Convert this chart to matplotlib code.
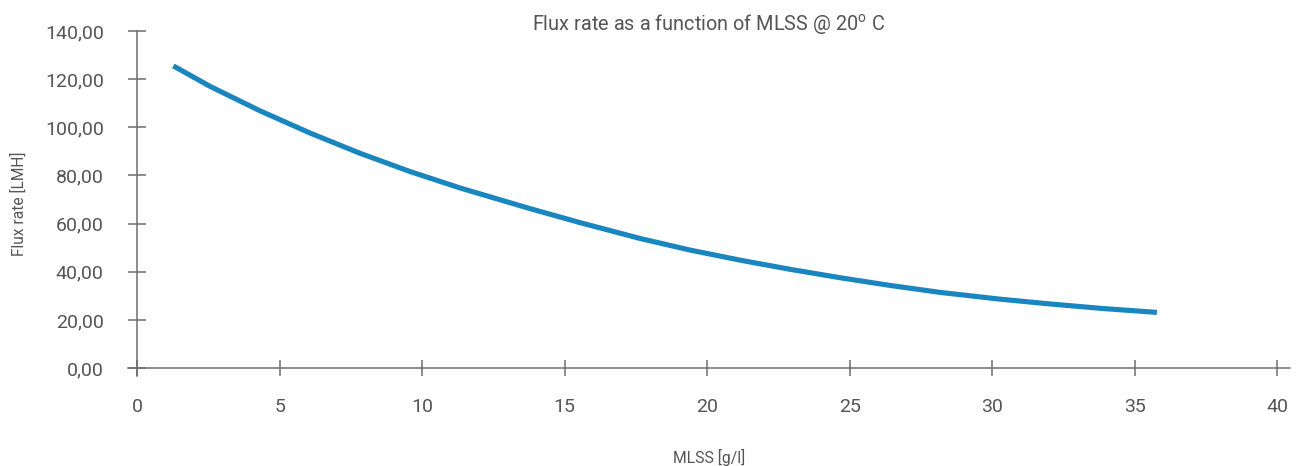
import matplotlib
matplotlib.use("Agg")
import matplotlib.pyplot as plt
from matplotlib.ticker import FuncFormatter

mlss = [1.27, 2.56, 4.32, 6.07, 7.82, 9.58, 11.33, 13.79, 15.54, 17.65,
        19.4, 21.16, 22.91, 24.67, 26.42, 28.18, 30.28, 32.04, 33.9, 35.78]
flux = [125.5, 117.0, 106.8, 97.6, 89.2, 81.6, 74.8, 66.2, 60.4, 53.8,
        49.0, 44.8, 41.0, 37.5, 34.3, 31.4, 28.6, 26.6, 24.7, 23.1]
x_ticks = [0, 5, 10, 15, 20, 25, 30, 35, 40]
y_ticks = [0, 20, 40, 60, 80, 100, 120, 140]

title = "Flux rate as a function of MLSS @ 20$^{\\mathregular{o}}$ C"
xlabel = "MLSS [g/l]"
ylabel = "Flux rate [LMH]"

plt.rcParams['font.family'] = ['Roboto', 'DejaVu Sans']
W, H = 1298, 466
fig = plt.figure(figsize=(W / 100, H / 100), dpi=100)
left, right, top, bottom = 128, 1290, 31, 376
ax = fig.add_axes([left / W, 1 - bottom / H, (right - left) / W, (bottom - top) / H])

axis_col = "#6e6e6e"
text_col = "#555555"

ax.plot(mlss, flux, color="#1a86bf", lw=3.7, solid_capstyle="butt",
        solid_joinstyle="round")

ax.set_xlim(-0.32, 40.45)
ax.set_ylim(-3.32, 140)
ax.spines['left'].set_position(('data', 0))
ax.spines['bottom'].set_position(('data', 0))
ax.spines['top'].set_visible(False)
ax.spines['right'].set_visible(False)
for s in ('left', 'bottom'):
    ax.spines[s].set_color(axis_col)
    ax.spines[s].set_linewidth(1.1)

ax.set_xticks(x_ticks)
ax.set_yticks(y_ticks)
ax.yaxis.set_major_formatter(FuncFormatter(lambda v, p: f"{v:.2f}".replace(".", ",")))
ax.tick_params(axis='x', direction='inout', length=12.2, width=1.1, color=axis_col,
               labelsize=14, labelcolor=text_col, pad=15.5)
ax.tick_params(axis='y', direction='inout', length=13, width=1.1, color=axis_col,
               labelsize=14, labelcolor=text_col, pad=17.5)

fig.text(709 / W, 1 - 24 / H, title, ha='center', va='center', fontsize=14.3, color=text_col)
fig.text(709 / W, 1 - 457 / H, xlabel, ha='center', va='center', fontsize=11.3, color=text_col)
fig.text(19 / W, 1 - 204 / H, ylabel, ha='center', va='center', rotation=90,
         fontsize=11.2, color=text_col)

fig.savefig("out.png", dpi=100, facecolor="white")
